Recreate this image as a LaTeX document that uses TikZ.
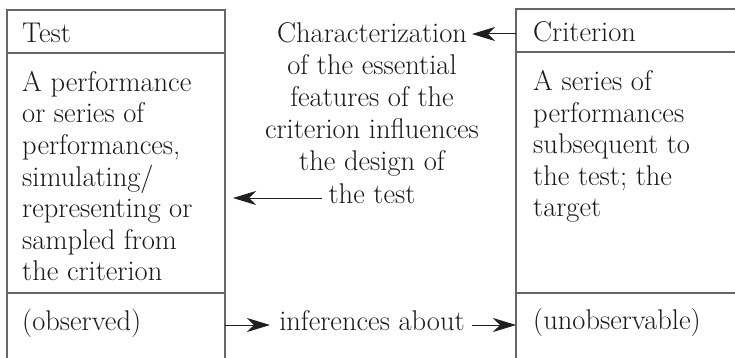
\documentclass[tikz,border=0pt]{standalone}
\usetikzlibrary{arrows.meta}
\begin{document}
\begin{tikzpicture}[x=1pt,y=-1pt,
  txt/.style={inner sep=0pt, font=\fontsize{28.5}{31.5}\selectfont, text=black!90},
  frame/.style={draw=black!60, line width=1.1pt},
  arr/.style={draw=black!88, line width=1pt, -{Stealth[length=23pt,width=14pt,inset=7pt]}}]
\useasboundingbox (0,0) rectangle (735,358);
% frames
\draw[frame] (7,358) -- (7,10) -- (225,10) -- (225,358);
\draw[frame] (7,53) -- (225,53);
\draw[frame] (7,293) -- (225,293);
\draw[frame] (516,358) -- (516,9) -- (735,9);
\draw[frame] (516,52) -- (735,52);
\draw[frame] (516,293) -- (735,293);
% headers
\node[txt, anchor=base west] (test) at (22,43) {Test};
\node[txt, anchor=base west] (crit) at (533,42) {Criterion};
% left body
\foreach \t [count=\i] in {A performance, or series of, {performances,}, simulating/, representing or, sampled from, the criterion}
  \node[txt, anchor=base west] (L\i) at (22,{91.5+31.5*(\i-1)}) {\t};
% right body
\foreach \t [count=\i] in {A series of, performances, subsequent to, the test; the, target}
  \node[txt, anchor=base west] (R\i) at (533,{90.5+31.6*(\i-1)}) {\t};
% centre text
\foreach \t [count=\i] in {Characterization, of the essential, features of the, criterion influences, the design of, the test}
  \node[txt, anchor=base] (C\i) at (372,{43+32*(\i-1)}) {\t};
% bottom row
\node[txt, anchor=base west] (obs) at (22,330) {(observed)};
\node[txt, anchor=base] (inf) at (372,330) {inferences about};
\node[txt, anchor=base west] (unobs) at (533,329) {(unobservable)};
% connector ends
\coordinate (critL) at (516,34);
\coordinate (charR) at (472,34);
\coordinate (midS) at (322,198);
\coordinate (midE) at (233,198);
\coordinate (obsR) at (225,325);
\coordinate (infL) at (270,325);
\coordinate (infR) at (472,325);
\coordinate (unobsL) at (516,325);
% arrows
\draw[arr] (critL) -- (charR);
\draw[arr] (midS) -- (midE);
\draw[arr] (obsR) -- (infL);
\draw[arr] (infR) -- (unobsL);
\end{tikzpicture}
\end{document}
